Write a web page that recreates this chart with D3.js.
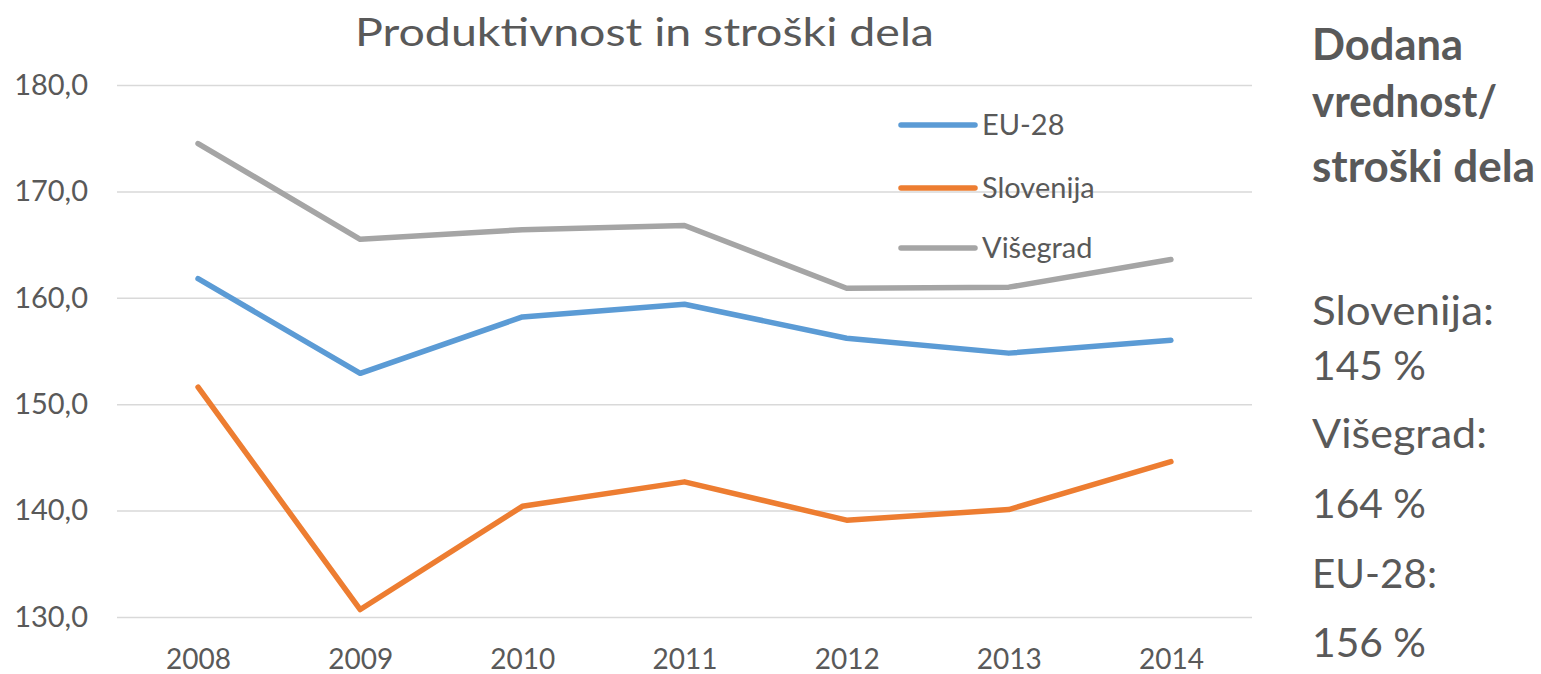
<!DOCTYPE html>
<html>
<head>
<meta charset="utf-8">
<script src="https://cdn.jsdelivr.net/npm/d3@7"></script>
<style>
    body { margin: 0; background: #fff; }
    svg { display: block; }
    text { font-family: Lato, "Open Sans", sans-serif; fill: #595959; }
</style>
</head>
<body>
<script>
// chart data
const years = ["2008", "2009", "2010", "2011", "2012", "2013", "2014"];
const eu28 = [161.8, 152.9, 158.2, 159.4, 156.2, 154.8, 156.0];
const slovenija = [151.6, 130.7, 140.4, 142.7, 139.1, 140.1, 144.6];
const visegrad = [174.5, 165.5, 166.4, 166.8, 160.9, 161.0, 163.6];
const yTicks = [130, 140, 150, 160, 170, 180];
const seriesNames = ["EU-28", "Slovenija", "Višegrad"];
const chartTitle = "Produktivnost in stroški dela";
const sideHeading = ["Dodana", "vrednost/", "stroški dela"];
const sideLines = ["Slovenija:", "145 %", "Višegrad:", "164 %", "EU-28:", "156 %"];

const colors = ["#5B9BD5", "#ED7D31", "#A5A5A5"];
const series = [eu28, slovenija, visegrad].map((values, i) => ({
    name: seriesNames[i],
    color: colors[i],
    values: values
}));

const W = 1541, H = 674;
const plot = {left: 117, right: 1252, top: 85, bottom: 617};

const svg = d3.select("body").append("svg")
    .attr("width", W)
    .attr("height", H);

const xScale = d3.scalePoint()
    .domain(years)
    .range([plot.left, plot.right])
    .padding(0.5);

const yScale = d3.scaleLinear()
    .domain([130, 180])
    .range([plot.bottom, plot.top]);

function fitWidth(sel, w) {
    sel.attr("textLength", w).attr("lengthAdjust", "spacingAndGlyphs");
}

// gridlines + y labels
const yAxis = d3.axisLeft(yScale)
    .tickValues(yTicks)
    .tickSize(-(plot.right - plot.left))
    .tickPadding(29)
    .tickFormat((d) => d3.format(".1f")(d).replace(".", ","));

const gy = svg.append("g")
    .attr("transform", "translate(" + plot.left + ",0)")
    .call(yAxis);
gy.select(".domain").remove();
gy.selectAll(".tick line").attr("stroke", "#D9D9D9").attr("stroke-width", 1.5);
gy.selectAll(".tick text")
    .style("font-size", "29px")
    .attr("fill", "#595959");

// x labels
const xAxis = d3.axisBottom(xScale).tickSize(0).tickPadding(32);
const gx = svg.append("g")
    .attr("transform", "translate(0," + plot.bottom + ")")
    .call(xAxis);
gx.select(".domain").remove();
gx.selectAll(".tick text")
    .style("font-size", "28px")
    .attr("fill", "#595959");

// lines
const line = d3.line()
    .x((d, i) => xScale(years[i]))
    .y((d) => yScale(d));

svg.selectAll("path.series")
    .data(series)
    .enter()
    .append("path")
    .attr("class", "series")
    .attr("fill", "none")
    .attr("stroke", (d) => d.color)
    .attr("stroke-width", 5.5)
    .attr("stroke-linejoin", "round")
    .attr("stroke-linecap", "round")
    .attr("d", (d) => line(d.values));

// legend
const legendY = [125, 188, 248];
const legend = svg.selectAll("g.legend")
    .data(series)
    .enter()
    .append("g")
    .attr("class", "legend")
    .attr("transform", (d, i) => "translate(901," + legendY[i] + ")");
legend.append("line")
    .attr("x1", 0).attr("x2", 74)
    .attr("stroke", (d) => d.color)
    .attr("stroke-width", 5.5)
    .attr("stroke-linecap", "round");
legend.append("text")
    .attr("x", 81)
    .attr("dy", "0.35em")
    .style("font-size", "29px")
    .text((d) => d.name);

// title
svg.append("text")
    .attr("x", 355)
    .attr("y", 46)
    .style("font-size", "38px")
    .text(chartTitle)
    .call(fitWidth, 579);

// side annotation
const headingY = [60, 117, 182];
const headingW = [151, 185, 223];
svg.selectAll("text.heading")
    .data(sideHeading)
    .enter()
    .append("text")
    .attr("class", "heading")
    .attr("x", 1312)
    .attr("y", (d, i) => headingY[i])
    .style("font-size", "43px")
    .style("font-weight", "700")
    .text((d) => d)
    .each(function (d, i) { d3.select(this).call(fitWidth, headingW[i]); });

const linesY = [325, 380, 448, 518, 588, 657];
const linesW = [182, 114, 175, 114, 125, 114];
svg.selectAll("text.side")
    .data(sideLines)
    .enter()
    .append("text")
    .attr("class", "side")
    .attr("x", 1312)
    .attr("y", (d, i) => linesY[i])
    .style("font-size", "41px")
    .text((d) => d)
    .each(function (d, i) { d3.select(this).call(fitWidth, linesW[i]); });
</script>
</body>
</html>
